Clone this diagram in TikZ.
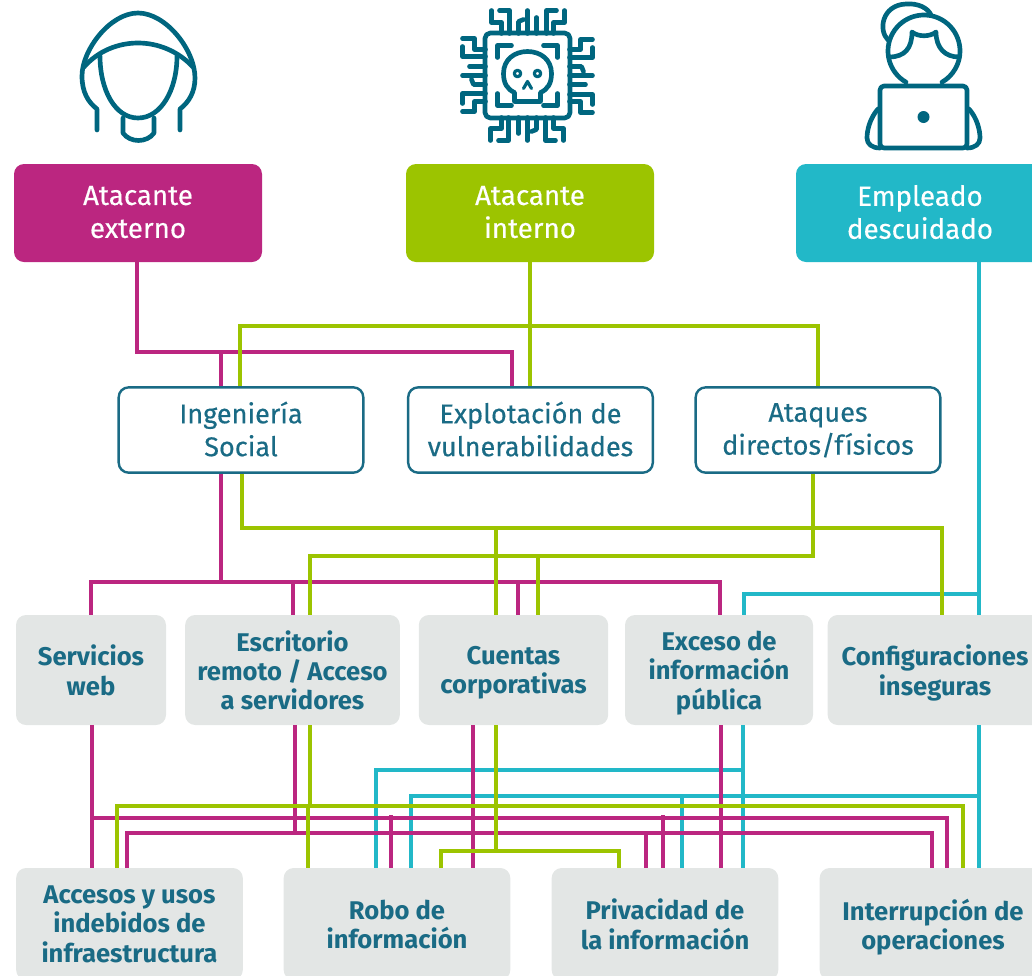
\documentclass[tikz,border=0pt]{standalone}
\usepackage{fontspec}
\setmainfont{Fira Sans}
\newfontfamily\medfont[FakeBold=0.35]{Fira Sans}
\definecolor{mag}{HTML}{BB2680}
\definecolor{lime}{HTML}{9CC400}
\definecolor{cya}{HTML}{22B8C8}
\definecolor{teal}{HTML}{1A6B85}
\definecolor{ink}{HTML}{00667F}
\definecolor{pale}{HTML}{E3E6E5}
\tikzset{
  px/.style={x=0.75pt,y=-0.75pt},
  box/.style={rounded corners=7.5pt,inner sep=0pt,align=center,text centered},
  headbox/.style={box,text=white,text depth=1.7pt,font=\medfont\fontsize{20.8}{24.7}\selectfont},
  midbox/.style={box,draw=teal,line width=1.8pt,fill=white,text=teal,text depth=1.7pt,font=\medfont\fontsize{20.3}{24.7}\selectfont},
  greybox/.style={box,fill=pale,text=teal,text depth=0pt,font=\fontsize{19.2}{22}\selectfont\bfseries},
  linkm/.style={draw=mag,line width=2.35pt},
  linkl/.style={draw=lime,line width=2.35pt},
  linkc/.style={draw=cya,line width=2.35pt},
  ico/.style={draw=ink,line width=3.5pt,line cap=round,line join=round},
}
\newcommand{\pins}{%
  \draw[ico] (-36,-65)--(-36,-53)--(-26,-53)--(-26,-42);
  \draw[ico] (-28,-65)--(-18,-65)--(-18,-42);
  \draw[ico] (-9,-42)--(-9,-54)--(-4,-56);
  \draw[ico] (0,-65)--(0,-42);
  \draw[ico] (9,-42)--(9,-58);
  \draw[ico] (19,-42)--(19,-65)--(29,-65);
  \draw[ico] (26,-42)--(26,-53)--(37,-53)--(37,-65);
}
\begin{document}
\begin{tikzpicture}[px]
\useasboundingbox (0,0) rectangle (1032,975);
\clip (0,0) rectangle (1032,975);

% nodes
\node[headbox,fill=mag,minimum width=186pt,minimum height=73.5pt] (ext) at (138,213) {Atacante\\externo};
\node[headbox,fill=lime,minimum width=186pt,minimum height=73.5pt] (int) at (530,213) {Atacante\\interno};
\node[headbox,fill=cya,minimum width=186pt,minimum height=73.5pt] (emp) at (920,213) {Empleado\\descuidado};

\node[midbox,minimum width=183.5pt,minimum height=64pt] (ing) at (241,430) {Ingeniería\\Social};
\node[midbox,minimum width=183.5pt,minimum height=64pt] (vul) at (530.5,430) {Explotación de\\vulnerabilidades};
\node[midbox,minimum width=183.5pt,minimum height=64pt] (ata) at (818,430) {Ataques\\directos/físicos};

\node[greybox,minimum width=112.5pt,minimum height=82.5pt] (web) at (91,670) {Servicios\\web};
\node[greybox,minimum width=161pt,minimum height=82.5pt] (esc) at (292.5,670) {Escritorio\\remoto / Acceso\\a servidores};
\node[greybox,minimum width=142pt,minimum height=82.5pt] (cue) at (513.5,670) {Cuentas\\corporativas};
\node[greybox,minimum width=141pt,minimum height=82.5pt] (exc) at (719,670) {Exceso de\\información\\pública};
\node[greybox,minimum width=161pt,minimum height=82.5pt] (con) at (935,670) {Configuraciones\\inseguras};

\node[greybox,minimum width=170pt,minimum height=84pt] (acc) at (129.5,924) {Accesos y usos\\indebidos de\\infraestructura};
\node[greybox,minimum width=170pt,minimum height=84pt] (rob) at (397,924) {Robo de\\información};
\node[greybox,minimum width=170pt,minimum height=84pt] (pri) at (665,924) {Privacidad de\\la información};
\node[greybox,minimum width=170pt,minimum height=84pt] (intr) at (933,924) {Interrupción de\\operaciones};

% junctions
\coordinate (hEx) at (0,352);
\coordinate (hIn) at (0,326);
\coordinate (hIa) at (0,528);
\coordinate (hAt) at (0,556);
\coordinate (hMg) at (0,582);
\coordinate (hCy) at (0,594);
\coordinate (loC) at (0,770);
\coordinate (loD) at (0,796);
\coordinate (loG) at (0,806);
\coordinate (loM) at (0,818);
\coordinate (loN) at (0,833);
\coordinate (loK) at (0,851);

% cyan links
\draw[linkc] (979,0 |- emp.south) -- (979,0 |- con.north);
\draw[linkc] (979,0 |- hCy) -- (744,0 |- hCy) -- (744,0 |- exc.north);
\draw[linkc] (743,0 |- exc.south) -- (743,0 |- pri.north);
\draw[linkc] (979,0 |- con.south) -- (979,0 |- intr.north);
\draw[linkc] (743,0 |- loC) -- (376,0 |- loC) -- (376,0 |- rob.north);
\draw[linkc] (979,0 |- loD) -- (411,0 |- loD) -- (411,0 |- rob.north);
\draw[linkc] (682,0 |- loD) -- (682,0 |- pri.north);

% magenta links
\draw[linkm] (137,0 |- ext.south) -- (137,0 |- hEx) -- (512,0 |- hEx) -- (512,0 |- vul.north);
\draw[linkm] (221,0 |- hEx) -- (221,0 |- ing.north);
\draw[linkm] (221,0 |- ing.south) -- (221,0 |- hMg);
\draw[linkm] (91,0 |- web.north) -- (91,0 |- hMg) -- (720,0 |- hMg) -- (720,0 |- exc.north);
\draw[linkm] (293,580) -- (293,0 |- esc.north);
\draw[linkm] (518,580) -- (518,0 |- cue.north);
\draw[linkm] (92,0 |- web.south) -- (92,0 |- acc.north);
\draw[linkm] (92,0 |- loM) -- (947,0 |- loM) -- (947,0 |- intr.north);
\draw[linkm] (295,0 |- esc.south) -- (295,0 |- loN);
\draw[linkm] (127,0 |- acc.north) -- (127,0 |- loN) -- (932,0 |- loN) -- (932,0 |- intr.north);
\draw[linkm] (473,0 |- cue.south) -- (473,0 |- rob.north);
\draw[linkm] (721,0 |- exc.south) -- (721,0 |- pri.north);
\draw[linkm] (391,815) -- (391,0 |- rob.north);
\draw[linkm] (663,815) -- (663,0 |- pri.north);
\draw[linkm] (646,0 |- loN) -- (646,0 |- pri.north);

% lime links
\draw[linkl] (530,0 |- int.south) -- (530,0 |- vul.north);
\draw[linkl] (240,0 |- ing.north) -- (240,0 |- hIn) -- (818,0 |- hIn) -- (818,0 |- ata.north);
\draw[linkl] (242,0 |- ing.south) -- (242,0 |- hIa) -- (942,0 |- hIa) -- (942,0 |- con.north);
\draw[linkl] (496,0 |- hIa) -- (496,0 |- cue.north);
\draw[linkl] (813,0 |- ata.south) -- (813,0 |- hAt) -- (310,0 |- hAt) -- (310,0 |- esc.north);
\draw[linkl] (538,554) -- (538,0 |- cue.north);
\draw[linkl] (310,0 |- esc.south) -- (310,0 |- loG);
\draw[linkl] (117,0 |- acc.north) -- (117,0 |- loG) -- (963,0 |- loG) -- (963,0 |- intr.north);
\draw[linkl] (308,0 |- loG) -- (308,0 |- rob.north);
\draw[linkl] (496,0 |- cue.south) -- (496,0 |- loK);
\draw[linkl] (441,0 |- rob.north) -- (441,0 |- loK) -- (619,0 |- loK) -- (619,0 |- pri.north);

% hooded figure
\draw[ico] (97,130) -- (97,109) .. controls (88,102) and (82,92) .. (82,76)
  .. controls (82,50) and (110,13) .. (138,13) .. controls (166,13) and (195,50) .. (195,78)
  .. controls (195,92) and (189,102) .. (180,109) -- (180,130);
\draw[ico] (84,67) .. controls (98,51) and (118,43) .. (138,43) .. controls (158,43) and (178,51) .. (193,67);
\draw[ico] (100,56) .. controls (100,90) and (115,118) .. (138,118) .. controls (161,118) and (177,90) .. (177,56);
\draw[ico] (123,118) -- (123,133) .. controls (130,143) and (147,143) .. (154,133) -- (154,118);

% chip with skull
\draw[ico,rounded corners=4pt] (485,33) rectangle (570,118);
\begin{scope}[shift={(527.5,75.5)}]
  \foreach \a in {0,90,180,270}{\begin{scope}[rotate=\a]\pins\end{scope}}
  \draw[ico] (-30,-18) -- (-30,-30) -- (-16,-30);
  \draw[ico] (16,-30) -- (30,-30) -- (30,-18);
  \draw[ico] (-30,18) -- (-30,30) -- (-16,30);
  \draw[ico] (16,30) -- (30,30) -- (30,18);
  \draw[ico] (-13,26) -- (-13,17) .. controls (-20,14) and (-24,8) .. (-24,-2)
    .. controls (-24,-16) and (-13,-24) .. (0,-24) .. controls (13,-24) and (24,-16) .. (24,-2)
    .. controls (24,8) and (20,14) .. (13,17) -- (13,26) -- cycle;
  \draw[ico,line width=2.4pt] (-10,-2) circle (3.2);
  \draw[ico,line width=2.4pt] (10,-2) circle (3.2);
  \draw[ico,line width=2.4pt] (-4,13) -- (0,6) -- (4,13);
\end{scope}

% person at laptop
\draw[ico] (924,51) ++(120:36) arc (120:420:36);
\draw[ico] (888,40) .. controls (878,30) and (882,5) .. (906,4) .. controls (918,3) and (928,8) .. (931,15);
\draw[ico] (889,57) .. controls (905,57) and (912,48) .. (912,32) .. controls (918,37) and (930,37) .. (936,32)
  .. controls (936,48) and (945,57) .. (959,57);
\draw[ico,rounded corners=3pt] (880,86) rectangle (967,148);
\fill[ink] (923.5,117) circle (6);
\draw[ico] (878,109) .. controls (870,118) and (867,130) .. (867,138) .. controls (867,144) and (872,148) .. (880,148);
\draw[ico] (969,109) .. controls (977,118) and (980,130) .. (980,138) .. controls (980,144) and (975,148) .. (967,148);
\end{tikzpicture}
\end{document}
